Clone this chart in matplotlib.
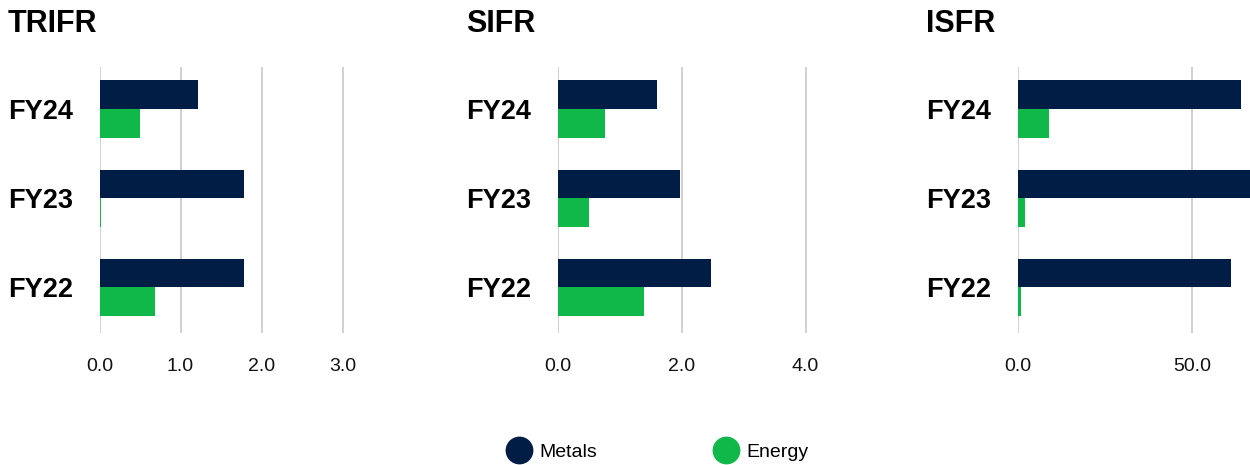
import numpy as np
import matplotlib.pyplot as plt
from matplotlib.lines import Line2D

plt.rcParams['font.family'] = ['Liberation Sans', 'DejaVu Sans']

# data
years = ['FY22', 'FY23', 'FY24']
trifr_metals = [1.78, 1.78, 1.21]
trifr_energy = [0.68, 0.02, 0.50]
sifr_metals = [2.48, 1.98, 1.60]
sifr_energy = [1.39, 0.51, 0.77]
isfr_metals = [61.2, 67.0, 64.1]
isfr_energy = [1.0, 2.1, 8.9]

metals_col = '#001e45'
energy_col = '#10b84a'
grid_col = '#c4c4c4'

panels = [
    ('TRIFR', trifr_metals, trifr_energy, [0, 1, 2, 3], ['0.0', '1.0', '2.0', '3.0'], 3.3),
    ('SIFR', sifr_metals, sifr_energy, [0, 2, 4], ['0.0', '2.0', '4.0'], 4.4),
    ('ISFR', isfr_metals, isfr_energy, [0, 50], ['0.0', '50.0'], 66.9),
]

W, H = 1250, 465
fig = plt.figure(figsize=(W / 100, H / 100), dpi=100)

# axes left edge (px), px per unit
lefts = [99.5, 557.5, 1018]
scales = [81.0, 62.0, 3.48]
top_px, bot_px = 67, 333

y = np.arange(len(years))
bh = 0.32

for (title, m, e, ticks, tlabels, xmax), lx, sc in zip(panels, lefts, scales):
    wpx = xmax * sc
    ax = fig.add_axes([lx / W, 1 - bot_px / H, wpx / W, (bot_px - top_px) / H])
    ax.barh(y + bh / 2, m, height=bh, color=metals_col, zorder=3)
    ax.barh(y - bh / 2, e, height=bh, color=energy_col, zorder=3)
    ax.set_xlim(0, xmax)
    ax.set_ylim(-0.51, 2.47)
    ax.set_xticks(ticks)
    ax.set_xticklabels(tlabels, fontsize=14)
    ax.set_yticks(y)
    ax.set_yticklabels(years, fontsize=19.5, fontweight='bold', ha='left')
    ax.tick_params(axis='y', length=0, pad=66)
    ax.tick_params(axis='x', length=0, pad=18, colors='#111111')
    ax.grid(axis='x', color=grid_col, lw=1.1, zorder=0)
    for s in ax.spines.values():
        s.set_visible(False)
    ax.annotate(title, xy=(0, 1), xycoords='axes fraction',
                xytext=(-66, 25), textcoords='offset points',
                fontsize=22, fontweight='bold', ha='left', va='baseline')

handles = [Line2D([], [], marker='o', ls='', markersize=19, color=metals_col),
           Line2D([], [], marker='o', ls='', markersize=19, color=energy_col)]
fig.legend(handles, ['Metals', 'Energy'], loc='center', bbox_to_anchor=(0.5262, 0.028),
           ncol=2, frameon=False, fontsize=14, handletextpad=0.45,
           columnspacing=6.0, handlelength=1.2)

fig.savefig('out.png', dpi=100)
